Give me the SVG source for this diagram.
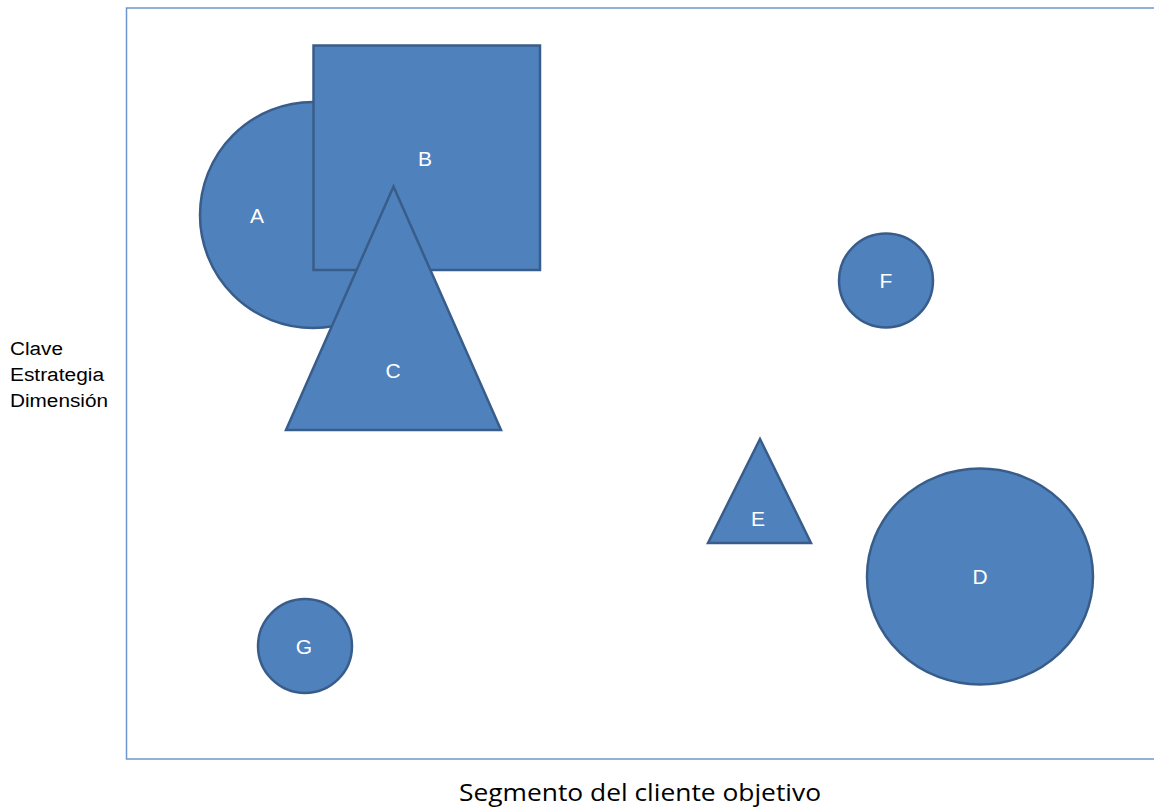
<svg xmlns="http://www.w3.org/2000/svg" width="1154" height="808" viewBox="0 0 1154 808">
<style>
.s{fill:#4F81BD;stroke:#385D8A;stroke-width:2.5;stroke-linejoin:miter}
.l{fill:#FFFFFF;font-family:"Liberation Sans",Arial,sans-serif;font-size:21px;text-anchor:middle}
.ax{fill:#000000;font-family:"Liberation Sans",Arial,sans-serif;font-size:18px}
</style>
<rect x="0" y="0" width="1154" height="808" fill="#FFFFFF"/>
<g id="frame"><path d="M1156 8 H126.5 V759 H1156" fill="none" stroke="#6E96CE" stroke-width="1.5"/></g>
<g id="connectors"></g>
<g id="node-A"><circle class="s" cx="313" cy="215" r="113"/><text class="l" x="257" y="223">A</text></g>
<g id="node-B"><rect class="s" x="313.5" y="45.5" width="226.5" height="224.5"/><text class="l" x="425" y="166">B</text></g>
<g id="node-C"><polygon class="s" points="393.5,186.5 501,430 286,430"/><text class="l" x="393" y="378">C</text></g>
<g id="node-F"><circle class="s" cx="886" cy="280.5" r="47"/><text class="l" x="886" y="288">F</text></g>
<g id="node-E"><polygon class="s" points="760,439 811,543 708,543"/><text class="l" x="758" y="526">E</text></g>
<g id="node-D"><ellipse class="s" cx="980" cy="576.5" rx="113" ry="108"/><text class="l" x="980" y="584">D</text></g>
<g id="node-G"><circle class="s" cx="305" cy="646" r="47"/><text class="l" x="304" y="654">G</text></g>
<g id="labels">
<text class="ax" x="10" y="355" textLength="53" lengthAdjust="spacingAndGlyphs">Clave</text>
<text class="ax" x="10" y="381" textLength="94" lengthAdjust="spacingAndGlyphs">Estrategia</text>
<text class="ax" x="10" y="407" textLength="98" lengthAdjust="spacingAndGlyphs">Dimensión</text>
<text x="640" y="801" fill="#000000" font-family="'Open Sans','Noto Sans',sans-serif" font-size="23" text-anchor="middle" textLength="362" lengthAdjust="spacingAndGlyphs">Segmento del cliente objetivo</text>
</g>
</svg>
